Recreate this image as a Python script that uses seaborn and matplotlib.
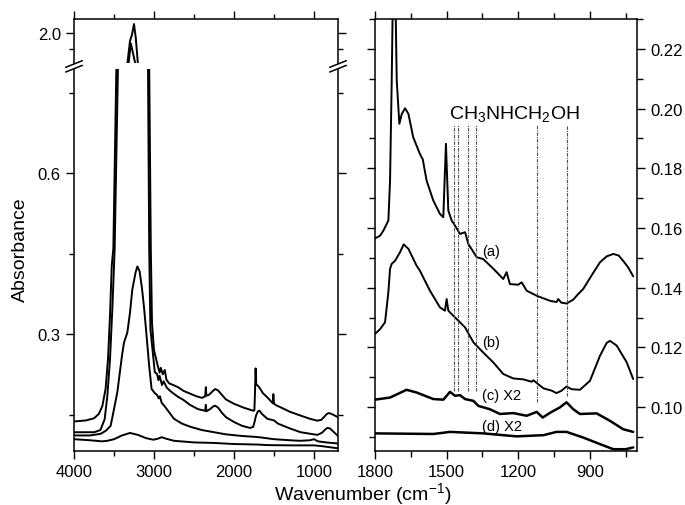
import matplotlib
matplotlib.use("Agg")
import matplotlib.pyplot as plt
from matplotlib.lines import Line2D
from matplotlib.ticker import MultipleLocator, FormatStrFormatter
import seaborn as sns

# ---- left panel: full range spectra (wavenumber, absorbance) ----
wn_a = [4000, 3850, 3750, 3690, 3645, 3605, 3575, 3550, 3528, 3508, 3470, 3440, 3335, 3300, 3275,
        3250, 3228, 3200, 3120, 3060, 3040, 3025, 3000, 2960, 2930, 2915, 2890, 2865, 2845, 2810,
        2760, 2700, 2630, 2550, 2470, 2400, 2360, 2352, 2346, 2310, 2270, 2237, 2200, 2160, 2100,
        2000, 1875, 1800, 1758, 1745, 1738, 1730, 1722, 1705, 1683, 1640, 1583, 1540, 1515, 1508,
        1500, 1470, 1417, 1300, 1167, 1050, 958, 910, 870, 840, 813, 780, 740, 700]
ab_a = [0.137, 0.139, 0.143, 0.151, 0.166, 0.198, 0.253, 0.334, 0.427, 0.460, 0.80, 1.40, 1.80, 1.95, 1.99,
        2.056, 1.97, 1.80, 1.20, 0.80, 0.46, 0.32, 0.270, 0.245, 0.228, 0.237, 0.225, 0.233, 0.215, 0.208,
        0.205, 0.201, 0.194, 0.189, 0.184, 0.181, 0.184, 0.201, 0.185, 0.187, 0.193, 0.1975, 0.195, 0.188, 0.178,
        0.170, 0.1625, 0.159, 0.157, 0.158, 0.190, 0.236, 0.206, 0.204, 0.2005, 0.190, 0.182, 0.175, 0.171, 0.188,
        0.170, 0.167, 0.1634, 0.155, 0.148, 0.142, 0.1385, 0.140, 0.146, 0.151, 0.1528, 0.151, 0.148, 0.145]

wn_b = [4000, 3750, 3670, 3617, 3583, 3550, 3521, 3492, 3450, 3420, 3320, 3290, 3265, 3230, 3130,
        3075, 3060, 3045, 2990, 2960, 2945, 2930, 2900, 2880, 2840, 2790, 2700, 2630, 2550, 2450,
        2360, 2352, 2345, 2300, 2260, 2237, 2200, 2150, 2100, 2000, 1900, 1800, 1760, 1740, 1725,
        1700, 1680, 1650, 1583, 1500, 1450, 1300, 1167, 1000, 958, 900, 860, 833, 800, 750, 700]
ab_b = [0.117, 0.117, 0.121, 0.141, 0.185, 0.253, 0.346, 0.458, 0.80, 1.40, 1.80, 1.935, 1.88, 1.80, 1.20,
        0.80, 0.46, 0.31, 0.229, 0.225, 0.214, 0.222, 0.205, 0.212, 0.200, 0.193, 0.183, 0.177, 0.168, 0.160,
        0.157, 0.168, 0.156, 0.160, 0.165, 0.1665, 0.163, 0.153, 0.145, 0.136, 0.129, 0.125, 0.127, 0.138, 0.148,
        0.156, 0.157, 0.151, 0.142, 0.139, 0.133, 0.124, 0.117, 0.113, 0.112, 0.116, 0.122, 0.125, 0.124, 0.117, 0.110]

wn_c = [4000, 3800, 3667, 3600, 3542, 3500, 3458, 3400, 3375, 3333, 3300, 3271, 3230, 3208, 3180,
        3150, 3125, 3100, 3060, 3030, 2990, 2960, 2940, 2925, 2905, 2870, 2800, 2750, 2650, 2542,
        2400, 2250, 2100, 1900, 1750, 1675, 1500, 1300, 1175, 1050, 1000, 950, 850, 700]
ab_c = [0.111, 0.111, 0.114, 0.120, 0.129, 0.160, 0.192, 0.260, 0.284, 0.303, 0.340, 0.383, 0.415, 0.426, 0.417,
        0.385, 0.350, 0.309, 0.240, 0.1975, 0.190, 0.186, 0.180, 0.184, 0.172, 0.166, 0.152, 0.142, 0.133, 0.127,
        0.121, 0.117, 0.113, 0.110, 0.1085, 0.1075, 0.104, 0.102, 0.101, 0.102, 0.104, 0.100, 0.098, 0.096]

wn_d = [4000, 3800, 3650, 3583, 3500, 3400, 3300, 3200, 3100, 3008, 2950, 2904, 2850, 2750, 2500,
        2250, 2000, 1700, 1583, 1300, 1000, 900, 800, 700]
ab_d = [0.104, 0.102, 0.100, 0.101, 0.104, 0.111, 0.1156, 0.112, 0.106, 0.103, 0.105, 0.1077, 0.105, 0.101, 0.098,
        0.097, 0.095, 0.094, 0.093, 0.0925, 0.0925, 0.091, 0.089, 0.087]

# ---- right panel: 1800-700 cm-1 region ----
wn_ra = [1800, 1779, 1765, 1744, 1737, 1730, 1724, 1716, 1709, 1698, 1688, 1674, 1660, 1640, 1612,
         1600, 1584, 1556, 1528, 1514, 1503, 1493, 1479, 1465, 1444, 1423, 1409, 1374, 1347, 1300,
         1263, 1249, 1235, 1200, 1186, 1165, 1123, 1067, 1040, 1033, 1020, 998, 970, 949, 928,
         890, 858, 830, 802, 780, 761, 740, 719]
ab_ra = [0.1565, 0.1574, 0.1591, 0.1625, 0.1759, 0.2094, 0.245, 0.245, 0.2094, 0.1949, 0.1982, 0.2001, 0.1982, 0.1904, 0.1848,
         0.1830, 0.1759, 0.1692, 0.1647, 0.1636, 0.1882, 0.1658, 0.1625, 0.1608, 0.1580, 0.1586, 0.1546, 0.1502, 0.1496, 0.1460,
         0.1429, 0.1452, 0.1412, 0.1410, 0.1418, 0.1390, 0.1373, 0.1356, 0.1352, 0.1362, 0.1350, 0.1347, 0.1360, 0.1379, 0.1396,
         0.1445, 0.1485, 0.1505, 0.1513, 0.1508, 0.1490, 0.1468, 0.1438]

wn_rb = [1800, 1779, 1758, 1744, 1737, 1730, 1716, 1695, 1680, 1660, 1626, 1612, 1570, 1528, 1507,
         1500, 1493, 1472, 1444, 1423, 1388, 1347, 1305, 1263, 1221, 1179, 1144, 1137, 1095, 1060,
         1040, 1019, 998, 977, 942, 900, 858, 830, 816, 788, 746, 719]
ab_rb = [0.1245, 0.1261, 0.1284, 0.1385, 0.1463, 0.1480, 0.1490, 0.1519, 0.1545, 0.1530, 0.1474, 0.1457, 0.1390, 0.1334, 0.1323,
         0.1362, 0.1323, 0.1306, 0.1284, 0.1267, 0.1217, 0.1183, 0.1150, 0.1111, 0.1096, 0.1093, 0.1085, 0.1090, 0.1063, 0.1055,
         0.1047, 0.1055, 0.1069, 0.1060, 0.1058, 0.1088, 0.1172, 0.1215, 0.1222, 0.1206, 0.1150, 0.1094]

wn_rc = [1800, 1737, 1668, 1626, 1556, 1514, 1486, 1465, 1444, 1423, 1388, 1367, 1319, 1277, 1221,
         1165, 1123, 1098, 1067, 1026, 998, 970, 942, 872, 816, 761, 719]
ab_rc = [0.1025, 0.1032, 0.1058, 0.1049, 0.1027, 0.1025, 0.1051, 0.1038, 0.1040, 0.1027, 0.1021, 0.1004, 0.0993, 0.0977, 0.0980,
         0.0971, 0.0984, 0.0965, 0.0981, 0.0999, 0.1016, 0.0993, 0.0977, 0.0979, 0.0954, 0.0926, 0.0917]

wn_rd = [1800, 1556, 1486, 1347, 1207, 1095, 1040, 998, 928, 858, 802, 750, 719]
ab_rd = [0.0912, 0.0910, 0.0917, 0.0912, 0.0902, 0.0906, 0.0917, 0.0917, 0.0898, 0.0876, 0.0859, 0.0859, 0.0865]

# CH3NHCH2OH band positions (dotted markers)
band_wn = [1468, 1451, 1409, 1377, 1120, 995]
band_low = [0.1055, 0.1055, 0.1055, 0.1055, 0.1017, 0.1037]
band_high = 0.1945

curve_tags = ["(a)", "(b)", "(c) X2", "(d) X2"]

sns.set_style("ticks")
plt.rcParams["font.family"] = ["Liberation Sans", "DejaVu Sans"]
plt.rcParams["mathtext.fontset"] = "custom"
plt.rcParams["mathtext.rm"] = "Liberation Sans"
plt.rcParams["mathtext.it"] = "Liberation Sans:italic"
plt.rcParams["axes.linewidth"] = 1.1
for key in ("text.color", "axes.labelcolor", "axes.edgecolor", "xtick.color", "ytick.color"):
    plt.rcParams[key] = "black"

W, H = 685, 506
fig = plt.figure(figsize=(W / 100, H / 100), dpi=100)


def box(x0, y0, x1, y1):
    # pixel box (top-left origin) -> figure fraction rect
    return [x0 / W, 1 - y1 / H, (x1 - x0) / W, (y1 - y0) / H]


ax_top = fig.add_axes(box(74, 20, 338, 64))
ax_low = fig.add_axes(box(74, 70, 338, 452))
ax_r = fig.add_axes(box(375, 20, 637, 452))

line_kw = dict(color="black", linewidth=1.4, sort=False, estimator=None, legend=False)
for ax in (ax_top, ax_low):
    for wn, ab in ((wn_a, ab_a), (wn_b, ab_b), (wn_c, ab_c), (wn_d, ab_d)):
        sns.lineplot(x=wn, y=ab, ax=ax, **line_kw)
    ax.set_xlim(4000, 700)
    ax.xaxis.set_major_locator(MultipleLocator(1000))
    ax.xaxis.set_minor_locator(MultipleLocator(500))
    ax.yaxis.set_major_formatter(FormatStrFormatter("%.1f"))
    ax.set_xlabel("")
    ax.set_ylabel("")
    ax.tick_params(which="both", direction="out", labelsize=12, width=1.0,
                   left=True, right=True, labelright=False)
    ax.tick_params(which="major", length=6)
    ax.tick_params(which="minor", length=3.5)

ax_top.set_ylim(1.8125, 2.0875)
ax_top.yaxis.set_major_locator(MultipleLocator(0.5))
ax_top.yaxis.set_minor_locator(MultipleLocator(0.1))
ax_top.spines["bottom"].set_visible(False)
ax_top.tick_params(which="both", bottom=False, labelbottom=False, top=True, labeltop=False)

ax_low.set_ylim(0.082, 0.794)
ax_low.yaxis.set_major_locator(MultipleLocator(0.3))
ax_low.yaxis.set_minor_locator(MultipleLocator(0.15))
ax_low.spines["top"].set_visible(False)
ax_low.tick_params(which="both", top=False, bottom=True)

# right panel
for wn, ab, lw in ((wn_ra, ab_ra, 1.4), (wn_rb, ab_rb, 1.4), (wn_rc, ab_rc, 1.8), (wn_rd, ab_rd, 1.8)):
    sns.lineplot(x=wn, y=ab, ax=ax_r, color="black", linewidth=lw, sort=False, estimator=None, legend=False)
ax_r.vlines(band_wn, band_low, band_high, colors="0.3", linewidth=0.8, linestyles=(0, (3, 1, 1, 1)))
ax_r.set_xlim(1800, 703)
ax_r.set_ylim(0.0853, 0.230)
ax_r.xaxis.set_major_locator(MultipleLocator(300))
ax_r.xaxis.set_minor_locator(MultipleLocator(150))
ax_r.yaxis.set_major_locator(MultipleLocator(0.02))
ax_r.yaxis.set_minor_locator(MultipleLocator(0.01))
ax_r.yaxis.set_major_formatter(FormatStrFormatter("%.2f"))
ax_r.set_xlabel("")
ax_r.set_ylabel("")
ax_r.tick_params(which="both", direction="out", labelsize=12, width=1.0,
                 left=True, right=True, top=True, bottom=True,
                 labelleft=False, labelright=True)
ax_r.tick_params(which="major", length=6)
ax_r.tick_params(which="minor", length=4)

ax_r.text(1490, 0.1968, r"CH$_\mathregular{3}$NHCH$_\mathregular{2}$OH", fontsize=14, ha="left", va="baseline")
tag_pos = [(1312, 0.1524, "center"), (1312, 0.1219, "center"), (1350, 0.1040, "left"), (1350, 0.0937, "left")]
for tag, (tx, ty, ha) in zip(curve_tags, tag_pos):
    ax_r.text(tx, ty, tag, fontsize=10.5, ha=ha, va="center")

# axis break marks on the left panel
for x0 in (74, 338):
    for yc in (65, 69.7):
        fig.add_artist(Line2D([(x0 - 8.3) / W, (x0 + 8.3) / W],
                              [1 - (yc + 3.3) / H, 1 - (yc - 3.3) / H],
                              color="black", linewidth=1.1))

fig.text(20 / W, 1 - 250 / H, "Absorbance", rotation=90, fontsize=14, ha="center", va="center")
fig.text(363 / W, 1 - 500 / H, "Wavenumber (cm$^{-1}$)", fontsize=14, ha="center", va="baseline")

fig.savefig("out.png", dpi=100)
